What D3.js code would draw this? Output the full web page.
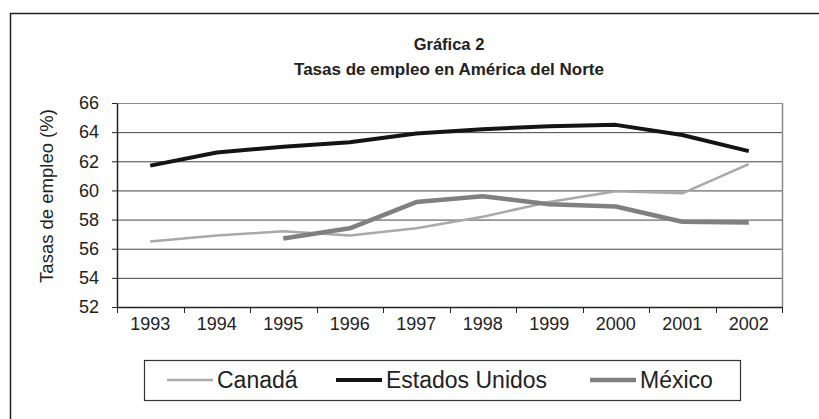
<!DOCTYPE html>
<html>
<head>
<meta charset="utf-8">
<script src="https://cdn.jsdelivr.net/npm/d3@7"></script>
<style>
  html, body { margin: 0; background: #fff; overflow: hidden; }
  svg { display: block; }
  text { font-family: "Liberation Sans", Arial, sans-serif; }
</style>
</head>
<body>
<div id="chart"></div>
<script>
var years = ["1993", "1994", "1995", "1996", "1997", "1998", "1999", "2000", "2001", "2002"];
var canada = [56.5, 56.9, 57.2, 56.9, 57.4, 58.2, 59.2, 59.95, 59.8, 61.8];
var estadosUnidos = [61.7, 62.6, 63.0, 63.3, 63.9, 64.2, 64.4, 64.5, 63.8, 62.7];
var mexico = [null, null, 56.7, 57.4, 59.2, 59.6, 59.05, 58.9, 57.85, 57.8];
var yTicks = [52, 54, 56, 58, 60, 62, 64, 66];

var series = [
  { name: "Canadá", values: canada, color: "#a9a9a9", width: 2.5 },
  { name: "Estados Unidos", values: estadosUnidos, color: "#141414", width: 4 },
  { name: "México", values: mexico, color: "#808080", width: 4.5 }
];

var svgWidth = 819;
var svgHeight = 419;

var svg = d3.select("#chart")
  .append("svg")
  .attr("width", svgWidth)
  .attr("height", svgHeight);

// outer frame (only left/top edges fall inside the picture)
svg.append("rect")
  .attr("x", 10.5)
  .attr("y", 13.5)
  .attr("width", 830)
  .attr("height", 430)
  .attr("fill", "none")
  .attr("stroke", "#222")
  .attr("stroke-width", 1.5);

var plot = { left: 117, right: 782, top: 103, bottom: 307 };

var x = d3.scaleBand()
  .domain(years)
  .range([plot.left, plot.right])
  .padding(0);

var y = d3.scaleLinear()
  .domain([52, 66])
  .range([plot.bottom, plot.top]);

// titles
svg.append("text")
  .attr("x", 449)
  .attr("y", 50)
  .attr("text-anchor", "middle")
  .attr("font-size", "16.5px")
  .attr("font-weight", "bold")
  .attr("fill", "#222")
  .text("Gráfica 2");

svg.append("text")
  .attr("x", 449)
  .attr("y", 75)
  .attr("text-anchor", "middle")
  .attr("font-size", "17px")
  .attr("font-weight", "bold")
  .attr("fill", "#222")
  .text("Tasas de empleo en América del Norte");

// gridlines
svg.append("g")
  .selectAll("line")
  .data(yTicks.slice(1))
  .enter().append("line")
  .attr("x1", plot.left)
  .attr("x2", plot.right)
  .attr("y1", d => y(d) + 0.5)
  .attr("y2", d => y(d) + 0.5)
  .attr("stroke", d => d === 66 ? "#8a8a8a" : "#444")
  .attr("stroke-width", 1);

// right border
svg.append("line")
  .attr("x1", plot.right + 0.5)
  .attr("x2", plot.right + 0.5)
  .attr("y1", plot.top)
  .attr("y2", plot.bottom)
  .attr("stroke", "#8a8a8a")
  .attr("stroke-width", 1.5);

// y axis
var leftAxis = d3.axisLeft(y)
  .tickValues(yTicks)
  .tickSize(5)
  .tickSizeOuter(0)
  .tickPadding(13)
  .tickFormat(d3.format("d"));

var gy = svg.append("g")
  .attr("transform", `translate(${plot.left}, 0)`)
  .call(leftAxis);
gy.select(".domain").attr("stroke", "#222").attr("stroke-width", 1.5);
gy.selectAll(".tick line").attr("stroke", "#222");
gy.selectAll("text")
  .attr("font-size", "18px")
  .attr("fill", "#222")
  .attr("font-family", "Liberation Sans, Arial, sans-serif");

// x axis: labels at centres, ticks at band edges
var bottomAxis = d3.axisBottom(x)
  .tickSize(0)
  .tickSizeOuter(0)
  .tickPadding(10);

var gx = svg.append("g")
  .attr("transform", `translate(0, ${plot.bottom})`)
  .call(bottomAxis);
gx.select(".domain").attr("stroke", "#222").attr("stroke-width", 1.5);
gx.selectAll("text")
  .attr("font-size", "18px")
  .attr("fill", "#222")
  .attr("font-family", "Liberation Sans, Arial, sans-serif");

var edges = years.map(d => x(d)).concat([x(years[years.length - 1]) + x.bandwidth()]);
svg.append("g")
  .selectAll("line")
  .data(edges)
  .enter().append("line")
  .attr("x1", d => Math.round(d) + 0.5)
  .attr("x2", d => Math.round(d) + 0.5)
  .attr("y1", plot.bottom)
  .attr("y2", plot.bottom + 6)
  .attr("stroke", "#222")
  .attr("stroke-width", 1);

// y axis title
svg.append("text")
  .attr("transform", "translate(53, 196) rotate(-90)")
  .attr("text-anchor", "middle")
  .attr("font-size", "18.5px")
  .attr("fill", "#222")
  .text("Tasas de empleo (%)");

// lines
var line = d3.line()
  .defined(d => d.v !== null)
  .x(d => x(d.year) + x.bandwidth() / 2)
  .y(d => y(d.v));

series.forEach(function(s) {
  var pts = years.map((yr, i) => ({ year: yr, v: s.values[i] }));
  svg.append("path")
    .datum(pts)
    .attr("d", line)
    .attr("fill", "none")
    .attr("stroke", s.color)
    .attr("stroke-width", s.width)
    .attr("stroke-linejoin", "round");
});

// legend
var legend = svg.append("g");
legend.append("rect")
  .attr("x", 144.5)
  .attr("y", 360.5)
  .attr("width", 596)
  .attr("height", 40)
  .attr("fill", "#fff")
  .attr("stroke", "#333")
  .attr("stroke-width", 1.2);

var legendX = [167, 336, 590];
series.forEach(function(s, i) {
  legend.append("line")
    .attr("x1", legendX[i])
    .attr("x2", legendX[i] + 46)
    .attr("y1", 380)
    .attr("y2", 380)
    .attr("stroke", s.color)
    .attr("stroke-width", s.width);
  legend.append("text")
    .attr("x", legendX[i] + 50)
    .attr("y", 388)
    .attr("font-size", "23px")
    .attr("fill", "#222")
    .text(s.name);
});
</script>
</body>
</html>
